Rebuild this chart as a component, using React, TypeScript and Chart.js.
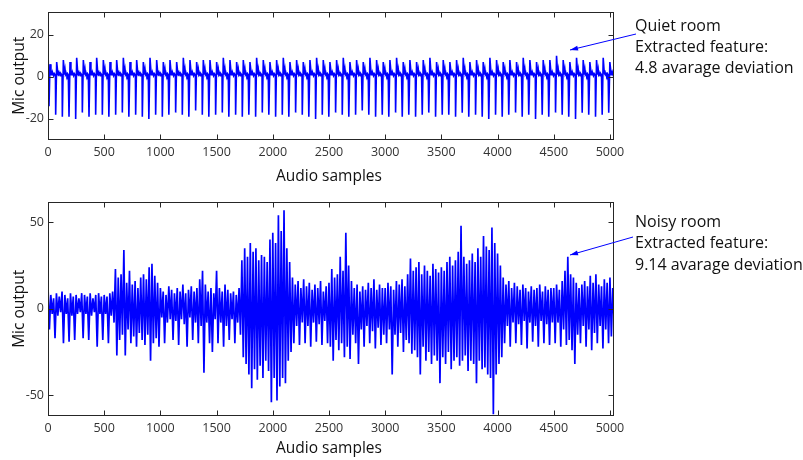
import React, { useEffect, useRef } from 'react';
import { Chart, registerables } from 'chart.js';

Chart.register(...registerables);

// ---------- shared axis data ----------
const xTicks = [0, 500, 1000, 1500, 2000, 2500, 3000, 3500, 4000, 4500, 5000];
const X_MAX = 5036;

// ---------- quiet room (top) ----------
const quietYTicks = [-20, 0, 20];
const QUIET_PERIOD = 59.3; // samples between spikes
const QUIET_FIRST_SPIKE = 9;
const quietStartValue = 15;
// spike minima, one per cycle
const quietMin = [
  -14, -18, -19, -19, -20, -17, -19, -18, -18, -19,
  -18, -17, -19, -18, -19, -20, -18, -19, -18, -17,
  -18, -19, -16, -18, -19, -18, -17, -19, -18, -19,
  -18, -19, -17, -18, -19, -18, -19, -17, -18, -19,
  -20, -18, -19, -17, -18, -19, -18, -16, -18, -19,
  -18, -19, -17, -19, -18, -19, -18, -17, -19, -18,
  -18, -19, -17, -19, -18, -19, -20, -18, -19, -18,
  -17, -19, -18, -20, -18, -19, -17, -18, -19, -20,
  -17, -18, -19, -18, -17,
];
// peak after each spike
const quietMax = [
  6, 7, 8, 7, 9, 8, 7, 9, 8, 7,
  8, 9, 7, 8, 7, 9, 8, 7, 8, 7,
  9, 8, 7, 8, 8, 7, 9, 8, 7, 8,
  7, 9, 8, 7, 8, 9, 7, 8, 7, 8,
  9, 8, 7, 8, 9, 7, 8, 7, 9, 8,
  7, 8, 9, 7, 8, 7, 8, 9, 7, 8,
  7, 8, 9, 7, 8, 7, 9, 8, 7, 8,
  7, 9, 8, 7, 8, 8, 10, 8, 7, 9,
  8, 7, 8, 9, 7,
];
const quietPeakAt = 9;
const quietTailAt = [17, 21, 25, 29, 35, 41, 47, 53, 57];
const quietTail = [3, 1, 3, 1, 1.5, 0.5, 1.5, 1, 1];

// ---------- noisy room (bottom) ----------
const noisyYTicks = [-50, 0, 50];
const NOISY_BIN = 25; // samples per bin
const noisyHigh = [
  13, 8, 6, 9, 7, 10, 8, 6, 9, 7, 8, 6, 9, 8, 7, 9, 6, 8, 9, 7,
  8, 7, 9, 10, 23, 18, 20, 34, 15, 22, 14, 16, 12, 18, 20, 17, 24, 26, 19, 15,
  12, 10, 8, 13, 11, 9, 12, 10, 14, 9, 11, 13, 10, 12, 17, 22, 14, 10, 12, 9,
  22, 12, 10, 14, 11, 9, 10, 8, 12, 28, 35, 30, 38, 33, 35, 28, 31, 30, 27, 40,
  44, 38, 54, 45, 57, 35, 27, 18, 14, 16, 12, 17, 13, 15, 11, 14, 12, 16, 10, 13,
  15, 23, 18, 20, 30, 22, 44, 25, 16, 12, 14, 10, 13, 11, 15, 12, 17, 11, 14, 12,
  12, 15, 13, 11, 16, 14, 17, 13, 20, 29, 22, 24, 27, 20, 25, 22, 19, 26, 23, 21,
  24, 22, 27, 30, 25, 28, 33, 48, 30, 26, 28, 32, 27, 35, 30, 42, 36, 34, 47, 38,
  32, 25, 18, 14, 16, 12, 15, 13, 11, 14, 12, 10, 13, 11, 12, 14, 10, 13, 11, 12,
  12, 14, 11, 16, 22, 30, 20, 18, 15, 12, 14, 16, 13, 19, 15, 20, 14, 13, 17, 15, 18, 12,
];
const noisyLow = [
  -12, -3, -17, -4, -2, -20, -3, -19, -4, -18, -3, -2, -17, -3, -18, -4, -2, -22, -3, -18,
  -3, -20, -4, -8, -27, -18, -15, -27, -12, -20, -16, -22, -14, -18, -21, -15, -30, -20, -17, -22,
  -5, -20, -8, -6, -18, -7, -21, -6, -9, -22, -5, -18, -8, -20, -10, -37, -8, -20, -25, -6,
  -20, -8, -22, -10, -18, -6, -20, -8, -15, -28, -32, -38, -46, -35, -41, -33, -40, -30, -36, -54,
  -40, -53, -45, -40, -43, -30, -25, -20, -10, -21, -8, -20, -10, -22, -8, -19, -9, -21, -7, -20,
  -22, -30, -18, -24, -20, -28, -22, -29, -15, -20, -32, -12, -22, -10, -20, -13, -23, -11, -21, -15,
  -20, -12, -38, -15, -22, -14, -25, -18, -20, -26, -24, -28, -38, -22, -30, -25, -32, -27, -30, -43,
  -28, -32, -25, -35, -30, -28, -33, -30, -27, -36, -30, -32, -43, -30, -35, -34, -38, -40, -61, -38,
  -32, -28, -20, -10, -22, -8, -20, -9, -21, -7, -23, -8, -19, -10, -22, -7, -20, -9, -21, -8,
  -20, -8, -22, -12, -21, -18, -24, -32, -15, -20, -10, -22, -12, -24, -14, -20, -10, -23, -12, -20, -16, -8,
];

// ---------- text ----------
const yTitle = 'Mic output';
const xTitle = 'Audio samples';
const quietNote = ['Quiet room', 'Extracted feature:', '4.8 avarage deviation'];
const noisyNote = ['Noisy room', 'Extracted feature:', '9.14 avarage deviation'];

const FONT = '"Open Sans", "DejaVu Sans", sans-serif';

function quietPoints() {
  const pts: { x: number; y: number }[] = [{ x: 0, y: quietStartValue }];
  quietMin.forEach((mn, k) => {
    const t = QUIET_FIRST_SPIKE + k * QUIET_PERIOD;
    pts.push({ x: t, y: mn });
    pts.push({ x: t + quietPeakAt, y: quietMax[k] });
    quietTailAt.forEach((off, j) => pts.push({ x: t + off, y: quietTail[j] }));
  });
  return pts;
}

function noisyPoints() {
  const pts: { x: number; y: number }[] = [];
  noisyHigh.forEach((h, i) => {
    pts.push({ x: i * NOISY_BIN, y: h });
    pts.push({ x: i * NOISY_BIN + NOISY_BIN / 2, y: noisyLow[i] });
  });
  return pts;
}

type Cfg = {
  points: { x: number; y: number }[];
  yMin: number;
  yMax: number;
  yTicks: number[];
  canvasH: number;
  plotTop: number;
  plotBottom: number;
  lineWidth: number;
  note: string[];
  noteX: number;
  noteBaselines: number[];
  arrowFrom: [number, number];
  arrowTo: [number, number];
  xTitleBaseline: number;
};

const PLOT_LEFT = 48;
const PLOT_RIGHT = 614;

function makeChart(canvas: HTMLCanvasElement, c: Cfg) {
  const decor = {
    id: 'decor',
    afterDraw(chart: any) {
      const { ctx, chartArea: a, scales } = chart;
      ctx.save();
      ctx.strokeStyle = '#262626';
      ctx.lineWidth = 1;
      const L = Math.round(a.left) + 0.5;
      const R = Math.round(a.right) - 0.5;
      const T = Math.round(a.top) + 0.5;
      const B = Math.round(a.bottom) - 0.5;
      ctx.strokeRect(L, T, R - L, B - T);
      const TL = 5;
      ctx.beginPath();
      xTicks.forEach((v) => {
        const px = Math.round(scales.x.getPixelForValue(v)) + 0.5;
        ctx.moveTo(px, B);
        ctx.lineTo(px, B - TL);
        ctx.moveTo(px, T);
        ctx.lineTo(px, T + TL);
      });
      c.yTicks.forEach((v) => {
        const py = Math.round(scales.y.getPixelForValue(v)) + 0.5;
        ctx.moveTo(L, py);
        ctx.lineTo(L + TL, py);
        ctx.moveTo(R, py);
        ctx.lineTo(R - TL, py);
      });
      ctx.stroke();

      // axis titles
      ctx.fillStyle = '#111';
      ctx.font = `15.5px ${FONT}`;
      ctx.textAlign = 'center';
      ctx.textBaseline = 'alphabetic';
      ctx.fillText(xTitle, (a.left + a.right) / 2 - 2, c.xTitleBaseline);
      ctx.save();
      ctx.translate(24, (a.top + a.bottom) / 2);
      ctx.rotate(-Math.PI / 2);
      ctx.fillText(yTitle, 0, 0);
      ctx.restore();

      // note
      ctx.font = `16px ${FONT}`;
      ctx.textAlign = 'left';
      c.note.forEach((line, i) => ctx.fillText(line, c.noteX, c.noteBaselines[i]));

      // arrow
      const [x0, y0] = c.arrowFrom;
      const [x1, y1] = c.arrowTo;
      ctx.strokeStyle = '#0000ff';
      ctx.fillStyle = '#0000ff';
      ctx.lineWidth = 1;
      ctx.beginPath();
      ctx.moveTo(x0, y0);
      ctx.lineTo(x1, y1);
      ctx.stroke();
      const ang = Math.atan2(y1 - y0, x1 - x0);
      const hl = 8;
      const hw = 2.5;
      ctx.beginPath();
      ctx.moveTo(x1, y1);
      ctx.lineTo(x1 - hl * Math.cos(ang) + hw * Math.sin(ang), y1 - hl * Math.sin(ang) - hw * Math.cos(ang));
      ctx.lineTo(x1 - hl * Math.cos(ang) - hw * Math.sin(ang), y1 - hl * Math.sin(ang) + hw * Math.cos(ang));
      ctx.closePath();
      ctx.fill();
      ctx.restore();
    },
  };

  return new Chart(canvas, {
    type: 'line',
    data: {
      datasets: [
        {
          data: c.points,
          borderColor: '#0000ff',
          borderWidth: c.lineWidth,
          pointRadius: 0,
          tension: 0,
          fill: false,
        },
      ],
    },
    options: {
      animation: false,
      responsive: false,
      devicePixelRatio: 1,
      parsing: false,
      normalized: true,
      events: [],
      layout: {
        padding: { left: 0, right: 803 - PLOT_RIGHT, top: c.plotTop, bottom: 0 },
      },
      plugins: { legend: { display: false }, tooltip: { enabled: false }, title: { display: false } },
      scales: {
        x: {
          type: 'linear',
          min: 0,
          max: X_MAX,
          grid: { display: false, drawTicks: false },
          border: { display: false },
          ticks: {
            color: '#333',
            font: { family: FONT, size: 12.5 },
            padding: 5,
            maxRotation: 0,
            autoSkip: false,
            callback: (v: any) => String(v),
          },
          afterBuildTicks: (axis: any) => {
            axis.ticks = xTicks.map((v) => ({ value: v }));
          },
          afterFit: (axis: any) => {
            axis.height = c.canvasH - c.plotBottom;
          },
        },
        y: {
          type: 'linear',
          min: c.yMin,
          max: c.yMax,
          grid: { display: false, drawTicks: false },
          border: { display: false },
          ticks: {
            color: '#333',
            font: { family: FONT, size: 12.5 },
            padding: 4,
            autoSkip: false,
            callback: (v: any) => String(v),
          },
          afterBuildTicks: (axis: any) => {
            axis.ticks = c.yTicks.map((v) => ({ value: v }));
          },
          afterFit: (axis: any) => {
            axis.width = PLOT_LEFT;
          },
        },
      },
    },
    plugins: [decor],
  } as any);
}

export default function App() {
  const topRef = useRef<HTMLCanvasElement>(null);
  const botRef = useRef<HTMLCanvasElement>(null);

  useEffect(() => {
    const top = makeChart(topRef.current!, {
      points: quietPoints(),
      yMin: -30,
      yMax: 31,
      yTicks: quietYTicks,
      canvasH: 190,
      plotTop: 6,
      plotBottom: 140,
      lineWidth: 1.6,
      note: quietNote,
      noteX: 635,
      noteBaselines: [31, 52, 73],
      arrowFrom: [636, 34],
      arrowTo: [570, 50],
      xTitleBaseline: 181,
    });
    const bot = makeChart(botRef.current!, {
      points: noisyPoints(),
      yMin: -62,
      yMax: 62,
      yTicks: noisyYTicks,
      canvasH: 270,
      plotTop: 7,
      plotBottom: 226,
      lineWidth: 1.7,
      note: noisyNote,
      noteX: 635,
      noteBaselines: [227, 248, 270].map((v) => v - 190),
      arrowFrom: [633, 237 - 190],
      arrowTo: [570, 255 - 190],
      xTitleBaseline: 453 - 190,
    });
    return () => {
      top.destroy();
      bot.destroy();
    };
  }, []);

  return (
    <div style={{ position: 'absolute', left: 0, top: 0, width: 803, height: 460, background: '#fff' }}>
      <canvas ref={topRef} width={803} height={190} style={{ position: 'absolute', left: 0, top: 0 }} />
      <canvas ref={botRef} width={803} height={270} style={{ position: 'absolute', left: 0, top: 190 }} />
    </div>
  );
}
